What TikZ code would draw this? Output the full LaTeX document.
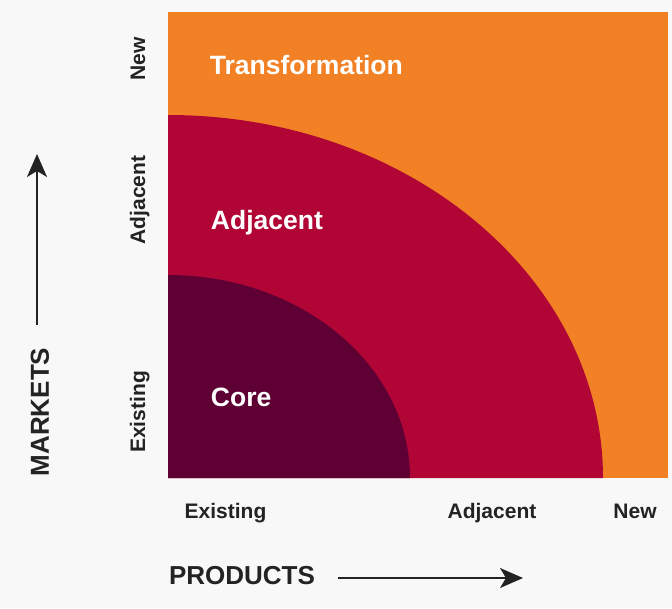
\documentclass[tikz,border=0pt]{standalone}
\usepackage{fontspec}
\setmainfont{Liberation Sans}
\usetikzlibrary{arrows.meta}

\definecolor{bggray}{RGB}{248,248,248}
\definecolor{transorange}{RGB}{241,129,36}
\definecolor{adjcrimson}{RGB}{176,5,53}
\definecolor{coreplum}{RGB}{95,0,52}
\definecolor{axisgray}{RGB}{35,35,35}

\tikzset{
  zonelabel/.style={anchor=west,inner sep=0.75pt,text=white,font=\fontsize{26.5}{30}\selectfont\bfseries},
  ticklabel/.style={anchor=base,inner sep=0pt,text=axisgray,font=\fontsize{21}{24}\selectfont\bfseries},
  axislabel/.style={inner sep=0.75pt,text=axisgray,font=\fontsize{26}{30}\selectfont\bfseries},
  axisarrow/.style={draw=axisgray,line width=1.8pt,-{Stealth[length=23pt,width=20pt,inset=6pt]}}
}

\begin{document}
\begin{tikzpicture}[x=1pt,y=1pt,yscale=-1,xscale=1]
%set diagram to 672 x 608
\useasboundingbox[fill=bggray] (0,0) rectangle (672,608);

%Shape: Rectangle [transformation]
\fill [transorange] (168,12) rectangle (668,478);
%Shape: Quarter ellipse [adjacent]
\fill [adjcrimson] (168,478) -- (168,115) arc [start angle=-90,end angle=0,x radius=435,y radius=363] -- cycle;
%Shape: Quarter ellipse [core]
\fill [coreplum] (168,478) -- (168,275) arc [start angle=-90,end angle=0,x radius=242,y radius=203] -- cycle;

% Text Node
\node (trans) [zonelabel] at (209,65) {Transformation};
% Text Node
\node (adj) [zonelabel] at (210,223) {Adjacent};
% Text Node
\node (core) [zonelabel] at (210,397) {Core};

% Text Node
\node (pexist) [ticklabel] at (225.5,518) {Existing};
% Text Node
\node (padj) [ticklabel] at (492,518) {Adjacent};
% Text Node
\node (pnew) [ticklabel] at (635,518) {New};

% Text Node
\node (mnew) [ticklabel,rotate=90] at (145,59) {New};
% Text Node
\node (madj) [ticklabel,rotate=90] at (145,200) {Adjacent};
% Text Node
\node (mexist) [ticklabel,rotate=90] at (145,412) {Existing};

% Text Node
\node (products) [axislabel] at (242,576) {PRODUCTS};
% Text Node
\node (markets) [axislabel,rotate=90] at (40,412) {MARKETS};

%Straight Lines [axis arrows]
\coordinate (ptip) at (523,578);
\coordinate (mtip) at (37,154);
\draw [axisarrow] (products.east) ++(22,2) coordinate (pstart) -- (ptip);
\draw [axisarrow] (markets.east) ++(-3,-22) coordinate (mstart) -- (mtip);

\end{tikzpicture}
\end{document}
